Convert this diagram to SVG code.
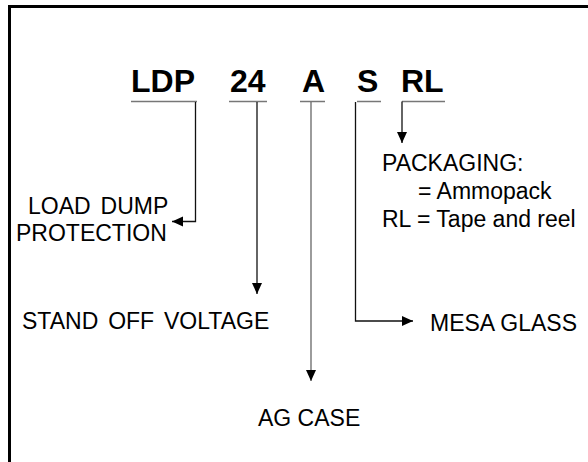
<svg xmlns="http://www.w3.org/2000/svg" width="588" height="462" viewBox="0 0 588 462">
<style>
.code{font-family:"Liberation Sans",Arial,sans-serif;font-weight:bold;font-size:32px;fill:#000}
.lbl{font-family:"Liberation Sans",Arial,sans-serif;font-size:23px;fill:#000}
.ws{word-spacing:3.5px}
.ul{stroke:#777;stroke-width:1.5;fill:none}
.ln{stroke:#111;stroke-width:1.3;fill:none}
.lg{stroke:#666;stroke-width:1.3;fill:none}
</style>
<defs>
<marker id="ah" markerUnits="userSpaceOnUse" markerWidth="12" markerHeight="12" viewBox="0 0 12 10" refX="11" refY="5" orient="auto">
<path d="M0,0 L11,5 L0,10 Z" fill="#000"/>
</marker>
</defs>
<rect x="9.5" y="6.5" width="600" height="480" fill="#fff" stroke="#000" stroke-width="3"/>
<g id="code">
<text class="code" x="131" y="92">LDP</text>
<text class="code" x="230" y="92">24</text>
<text class="code" x="302" y="92">A</text>
<text class="code" x="357" y="92">S</text>
<text class="code" x="401" y="92">RL</text>
</g>
<g id="connectors">
<line class="ul" x1="131" y1="101.5" x2="197" y2="101.5"/>
<line class="ul" x1="229" y1="101.5" x2="267" y2="101.5"/>
<line class="ul" x1="300" y1="101.5" x2="325" y2="101.5"/>
<line class="ul" x1="357" y1="101.5" x2="381" y2="101.5"/>
<line class="ul" x1="402" y1="101.5" x2="445" y2="101.5"/>
<polyline class="ln" points="195.5,102 195.5,221.5 172,221.5" marker-end="url(#ah)"/>
<line class="ln" x1="257" y1="102" x2="257" y2="294" marker-end="url(#ah)"/>
<line class="lg" x1="311" y1="102" x2="311" y2="381" marker-end="url(#ah)"/>
<polyline class="ln" points="355.5,102 355.5,321 413,321" marker-end="url(#ah)"/>
<line class="ln" x1="402" y1="101.5" x2="402" y2="143" marker-end="url(#ah)"/>
</g>
<g id="packaging">
<text class="lbl" x="382" y="171">PACKAGING:</text>
<text class="lbl" x="418" y="199">= Ammopack</text>
<text class="lbl" x="382" y="227">RL = Tape and reel</text>
</g>
<g id="load-dump">
<text class="lbl ws" x="28" y="214">LOAD DUMP</text>
<text class="lbl" x="16" y="241">PROTECTION</text>
</g>
<g id="stand-off">
<text class="lbl ws" x="22" y="329">STAND OFF VOLTAGE</text>
</g>
<g id="mesa">
<text class="lbl" x="430" y="331">MESA GLASS</text>
</g>
<g id="ag-case">
<text class="lbl" x="258" y="426">AG CASE</text>
</g>
</svg>
